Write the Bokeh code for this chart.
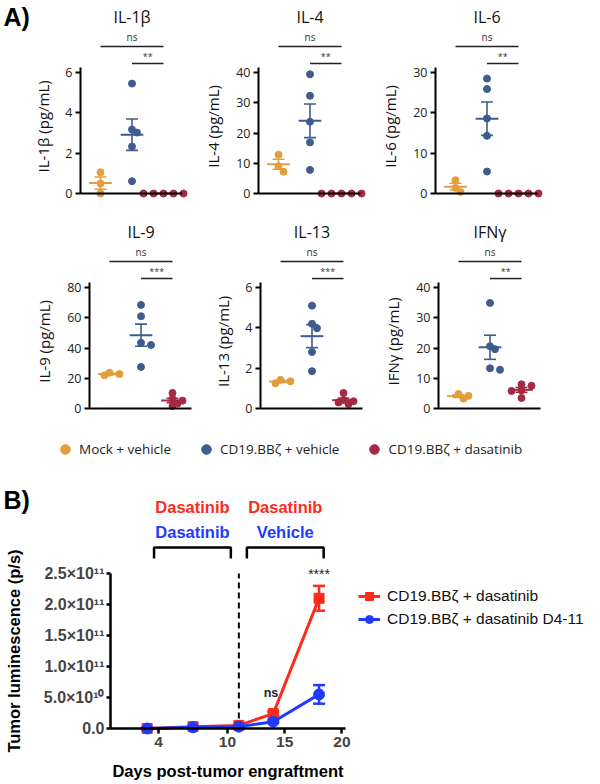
import numpy as np
from bokeh.plotting import figure
from bokeh.models import (Range1d, FixedTicker, Label, Legend, LegendItem, LinearAxis,
                          CustomJSTickFormatter, Whisker, TeeHead, ColumnDataSource)
from bokeh.embed import file_html
from bokeh.resources import INLINE

# ---------------- Panel A data ----------------
cytokines = ["IL-1β", "IL-4", "IL-6", "IL-9", "IL-13", "IFNγ"]
axis_titles = ["IL-1β (pg/mL)", "IL-4 (pg/mL)", "IL-6 (pg/mL)",
               "IL-9 (pg/mL)", "IL-13 (pg/mL)", "IFNγ (pg/mL)"]
ytick_sets = [[0, 2, 4, 6], [0, 10, 20, 30, 40], [0, 10, 20, 30],
              [0, 20, 40, 60, 80], [0, 2, 4, 6], [0, 10, 20, 30, 40]]
sig_labels = ["**", "**", "**", "***", "***", "**"]
group_names = ["Mock + vehicle", "CD19.BBζ + vehicle", "CD19.BBζ + dasatinib"]
mock_vehicle = [[1.05, 0.5, 0.0], [12.8, 9.0, 7.2], [3.3, 1.4, 0.4],
                [23.6, 22.8, 22.0], [1.42, 1.35, 1.25], [4.8, 4.2, 3.3]]
car_vehicle = [[5.45, 3.17, 3.02, 2.33, 0.61], [39.4, 32.3, 23.7, 16.9, 7.8],
               [28.5, 25.9, 18.6, 14.3, 5.45], [68.5, 61.0, 43.5, 42.0, 27.5],
               [5.1, 4.2, 3.98, 2.8, 1.85], [34.9, 20.6, 19.6, 13.3, 12.8]]
car_dasatinib = [[0, 0, 0, 0, 0], [0, 0, 0, 0, 0], [0, 0, 0, 0, 0],
                 [10.3, 6.3, 5.2, 3.3, 1.6], [0.77, 0.42, 0.36, 0.3, 0.22],
                 [8.0, 7.5, 6.0, 5.8, 3.5]]

# ---------------- Panel B data ----------------
days = [3, 7, 11, 14, 18]
dasatinib_mean = [0.0, 3.0e9, 5.0e9, 2.4e10, 2.1e11]
dasatinib_sem = [1.0e9, 1.0e9, 1.0e9, 3.0e9, 2.0e10]
d4_11_mean = [0.0, 2.0e9, 3.0e9, 1.1e10, 5.5e10]
d4_11_sem = [1.0e9, 1.0e9, 1.0e9, 2.0e9, 1.5e10]
b_series = ["CD19.BBζ + dasatinib", "CD19.BBζ + dasatinib D4-11"]
b_yticks = [0, 5e10, 1e11, 1.5e11, 2e11, 2.5e11]
b_xticks = [4, 10, 15, 20]
switch_day = 11
periods = [(3.6, 10.3), (11.7, 18.4)]
period_top = ["Dasatinib", "Dasatinib"]
period_bottom = ["Dasatinib", "Vehicle"]

# ---------------- styles / geometry ----------------
A_COLORS = ["#E39D3A", "#3E5C8E", "#A32A40"]
B_RED = "#FF2A1A"
B_BLUE = "#1F3BFF"
FONT_A = "Open Sans"
FONT_B = "Liberation Sans"

W, H = 596, 780          # canvas, placed at the page's top-left corner
OX, OY = 0, 0
XPX = 31.5               # px per group step in panel A
AX_H = 121               # px from 0 to the top tick in panel A
X0 = 1 - 20 / XPX        # data x of each panel-A y axis
X1 = X0 + 102 / XPX      # data x where each panel-A x axis ends
# page positions of each panel-A y axis and zero line
axis_px = [(80, 193), (258, 193), (435, 193), (89, 408), (260, 408), (438, 408)]

p = figure(width=W, height=H, title=None, x_range=Range1d(0, W), y_range=Range1d(0, H),
           x_axis_location=None, y_axis_location=None, min_border=0,
           output_backend="svg", toolbar_location=None)
p.outline_line_color = None
p.grid.visible = False

xr, yr = {}, {}
for i, (ax, zy) in enumerate(axis_px):
    ppu = AX_H / ytick_sets[i][-1]
    xs = X0 - (ax - OX) / XPX
    ys = -(OY + H - zy) / ppu
    xr[f"x{i}"] = Range1d(xs, xs + W / XPX)
    yr[f"y{i}"] = Range1d(ys, ys + H / ppu)

# panel B ranges
B_XPX = 11.46
B_X0 = -0.2
B_X1 = 20.3
B_AX = 110               # page x of panel-B y axis
B_ZY = 728               # page y of panel-B zero line
ytop = b_yticks[-1]
B_PPU = 155 / ytop
bxs = B_X0 - (B_AX - OX) / B_XPX
bys = -(OY + H - B_ZY) / B_PPU
xr["xb"] = Range1d(bxs, bxs + W / B_XPX)
yr["yb"] = Range1d(bys, bys + H / B_PPU)
p.extra_x_ranges = xr
p.extra_y_ranges = yr


def swarm(vals, ppu, min_d=5.5, step=5.0):
    placed, offs = [], []
    cands = [0.0]
    for j in range(1, 10):
        cands += [j * step, -j * step]
    for v in vals:
        y = v * ppu
        for c in cands:
            if all((c - px) ** 2 + (y - py) ** 2 >= min_d ** 2 for px, py in placed):
                break
        placed.append((c, y))
        offs.append(c / XPX)
    return offs


legend_a_renderers = []
for i in range(6):
    rn = dict(x_range_name=f"x{i}", y_range_name=f"y{i}")
    ticks = ytick_sets[i]
    ymax = ticks[-1]
    ppu = AX_H / ymax

    ya = LinearAxis(ticker=FixedTicker(ticks=ticks), fixed_location=X0, bounds=(0, ymax * 1.041),
                    axis_line_width=2, major_tick_out=5, major_tick_in=0, major_tick_line_width=2,
                    minor_tick_line_color=None, major_label_text_font=FONT_A,
                    major_label_text_font_size="12.5px", major_label_text_color="#222222",
                    major_label_standoff=3, **rn)
    p.add_layout(ya, "left")
    xa = LinearAxis(ticker=FixedTicker(ticks=[]), fixed_location=0, bounds=(X0, X1),
                    axis_line_width=2, major_tick_line_color=None, minor_tick_line_color=None,
                    **rn)
    p.add_layout(xa, "below")

    for g, vals in enumerate([mock_vehicle[i], car_vehicle[i], car_dasatinib[i]]):
        xs = [g + 1 + o for o in swarm(vals, ppu)]
        r = p.scatter(xs, vals, size=7, color=A_COLORS[g], **rn)
        if i == 0:
            legend_a_renderers.append(r)
        m = float(np.mean(vals))
        s = float(np.std(vals, ddof=1) / np.sqrt(len(vals)))
        c = g + 1
        p.segment(x0=[c - 0.36], y0=[m], x1=[c + 0.36], y1=[m],
                  line_color=A_COLORS[g], line_width=2, **rn)
        if s > 0:
            p.segment(x0=[c, c - 0.19, c - 0.19], y0=[m - s, m - s, m + s],
                      x1=[c, c + 0.19, c + 0.19], y1=[m + s, m - s, m + s],
                      line_color=A_COLORS[g], line_width=1.6, **rn)

    # significance bars
    p.segment(x0=[1, 2], y0=[ymax * 1.215, ymax * 1.074], x1=[3, 3],
              y1=[ymax * 1.215, ymax * 1.074], line_color="#222222", line_width=1.5, **rn)
    p.add_layout(Label(x=2, y=ymax * 1.215, y_offset=2, text="ns",
                       text_align="center", text_baseline="bottom",
                       text_font=FONT_A, text_font_size="10px", text_color="#333333", **rn))
    p.add_layout(Label(x=2.5, y=ymax * 1.074, y_offset=1, text=sig_labels[i],
                       text_align="center", text_baseline="bottom",
                       text_font=FONT_A, text_font_size="9px", text_color="#333333", **rn))
    # panel title
    p.add_layout(Label(x=2, y=ymax * 1.455, text=cytokines[i], text_align="center",
                       text_baseline="middle", text_font=FONT_A,
                       text_font_size="16px", text_color="#111111", **rn))
    # y-axis title
    off = 30 + 8 * len(str(ymax))
    p.add_layout(Label(x=X0 - off / XPX, y=ymax * 0.555, text=axis_titles[i],
                       angle=np.pi / 2, text_align="center", text_baseline="middle",
                       text_font=FONT_A, text_font_size="15px", text_color="#111111", **rn))

# panel letter A
p.add_layout(Label(x=X0 - (axis_px[0][0] - 3) / XPX, y=ytick_sets[0][-1] * 1.455, text="A)",
                   text_align="left", text_baseline="middle", text_font=FONT_B,
                   text_font_style="bold", text_font_size="25px", text_color="black",
                   x_range_name="x0", y_range_name="y0"))

# legend of panel A
lega = Legend(items=[LegendItem(label=n, renderers=[r]) for n, r in zip(group_names, legend_a_renderers)],
              orientation="horizontal", location=(53 - OX, OY + H - 449 - 12),
              glyph_width=24, glyph_height=24, label_standoff=2, spacing=23,
              padding=0, margin=0, border_line_color=None, background_fill_alpha=0,
              label_text_font=FONT_A, label_text_font_size="13.5px",
              label_text_color="#222222")
p.add_layout(lega)

# ---------------- Panel B ----------------
rb = dict(x_range_name="xb", y_range_name="yb")
xb = LinearAxis(ticker=FixedTicker(ticks=b_xticks), fixed_location=0, bounds=(B_X0, B_X1),
                axis_line_width=2.5, major_tick_line_width=2.5, major_tick_out=5, major_tick_in=0,
                minor_tick_line_color=None, major_label_text_font=FONT_B,
                major_label_text_font_style="bold", major_label_text_font_size="15.5px",
                major_label_standoff=3, **rb)
p.add_layout(xb, "below")
yb = LinearAxis(ticker=FixedTicker(ticks=b_yticks), fixed_location=B_X0, bounds=(0, ytop),
                axis_line_width=2.5, major_tick_line_width=2.5, major_tick_out=4, major_tick_in=0,
                minor_tick_line_color=None, major_label_text_font=FONT_B,
                major_label_text_font_style="bold", major_label_text_font_size="16px",
                major_label_standoff=2, **rb)
yb.formatter = CustomJSTickFormatter(code="""
if (tick == 0) { return "0.0"; }
const e = Math.floor(Math.log10(Math.abs(tick)) + 1e-9);
const m = tick / Math.pow(10, e);
const sup = {"0":"\u2070","1":"\u00b9","2":"\u00b2","3":"\u00b3","4":"\u2074","5":"\u2075","6":"\u2076","7":"\u2077","8":"\u2078","9":"\u2079"};
let s = "";
for (const c of String(e)) { s += sup[c]; }
return m.toFixed(1) + "\u00d710" + s;
""")
p.add_layout(yb, "left")

# dashed switch line
p.segment(x0=[switch_day], y0=[0], x1=[switch_day], y1=[ytop],
          line_color="black", line_width=2, line_dash="6 4", **rb)

# brackets + treatment texts
for (a, b), t1, t2 in zip(periods, period_top, period_bottom):
    p.multi_line(xs=[[a, a, b, b]], ys=[[ytop * 1.097, ytop * 1.168, ytop * 1.168, ytop * 1.097]],
                 line_color="black", line_width=2.5, **rb)
    mid = (a + b) / 2
    p.add_layout(Label(x=mid, y=ytop * 1.432, text=t1, text_align="center",
                       text_baseline="middle", text_font=FONT_B, text_font_style="bold",
                       text_font_size="16.5px", text_color=B_RED, **rb))
    p.add_layout(Label(x=mid, y=ytop * 1.265, text=t2, text_align="center",
                       text_baseline="middle", text_font=FONT_B, text_font_style="bold",
                       text_font_size="16.5px", text_color=B_BLUE, **rb))

# series
src_r = ColumnDataSource(dict(x=days, y=dasatinib_mean,
                              lo=[m - s for m, s in zip(dasatinib_mean, dasatinib_sem)],
                              hi=[m + s for m, s in zip(dasatinib_mean, dasatinib_sem)]))
src_b = ColumnDataSource(dict(x=days, y=d4_11_mean,
                              lo=[m - s for m, s in zip(d4_11_mean, d4_11_sem)],
                              hi=[m + s for m, s in zip(d4_11_mean, d4_11_sem)]))
for src, col in ((src_r, B_RED), (src_b, B_BLUE)):
    p.add_layout(Whisker(base="x", lower="lo", upper="hi", source=src, line_color=col,
                         line_width=2.5,
                         upper_head=TeeHead(size=12, line_color=col, line_width=2.5),
                         lower_head=TeeHead(size=12, line_color=col, line_width=2.5), **rb))
lr = p.line("x", "y", source=src_r, line_color=B_RED, line_width=3, **rb)
sr = p.scatter("x", "y", source=src_r, marker="square", size=10, color=B_RED, **rb)
lb = p.line("x", "y", source=src_b, line_color=B_BLUE, line_width=3, **rb)
sb = p.scatter("x", "y", source=src_b, marker="circle", size=11, color=B_BLUE, **rb)

# significance labels
p.add_layout(Label(x=days[-1], y=ytop, text="****", text_align="center",
                   text_baseline="middle", text_font=FONT_B, text_font_size="14px",
                   text_color="#222222", **rb))
p.add_layout(Label(x=13.8, y=ytop * 0.226, text="ns", text_align="center",
                   text_baseline="middle", text_font=FONT_B, text_font_style="bold",
                   text_font_size="12.5px", text_color="#222222", **rb))
# axis titles
p.add_layout(Label(x=B_X0 - (B_AX - 13) / B_XPX, y=ytop / 2, text="Tumor luminescence (p/s)",
                   angle=np.pi / 2, text_align="center", text_baseline="middle",
                   text_font=FONT_B, text_font_style="bold", text_font_size="16.5px",
                   text_color="black", **rb))
p.add_layout(Label(x=(B_X0 + B_X1) / 2, y=-42 / B_PPU, text="Days post-tumor engraftment",
                   text_align="center", text_baseline="middle",
                   text_font=FONT_B, text_font_style="bold", text_font_size="16.5px",
                   text_color="black", **rb))
# panel letter B
p.add_layout(Label(x=B_X0 - (B_AX - 3) / B_XPX, y=ytop * 1.471, text="B)",
                   text_align="left", text_baseline="middle", text_font=FONT_B,
                   text_font_style="bold", text_font_size="25px", text_color="black", **rb))

legb = Legend(items=[LegendItem(label=b_series[0], renderers=[lr, sr]),
                     LegendItem(label=b_series[1], renderers=[lb, sb])],
              location=(358 - OX, OY + H - 629), glyph_width=22, glyph_height=20, label_height=20,
              label_standoff=7, spacing=3, padding=0, margin=0,
              border_line_color=None, background_fill_alpha=0,
              label_text_font=FONT_B, label_text_font_size="15.5px",
              label_text_color="#111111")
p.add_layout(legb)

open("out.html", "w").write(file_html(p, INLINE))
